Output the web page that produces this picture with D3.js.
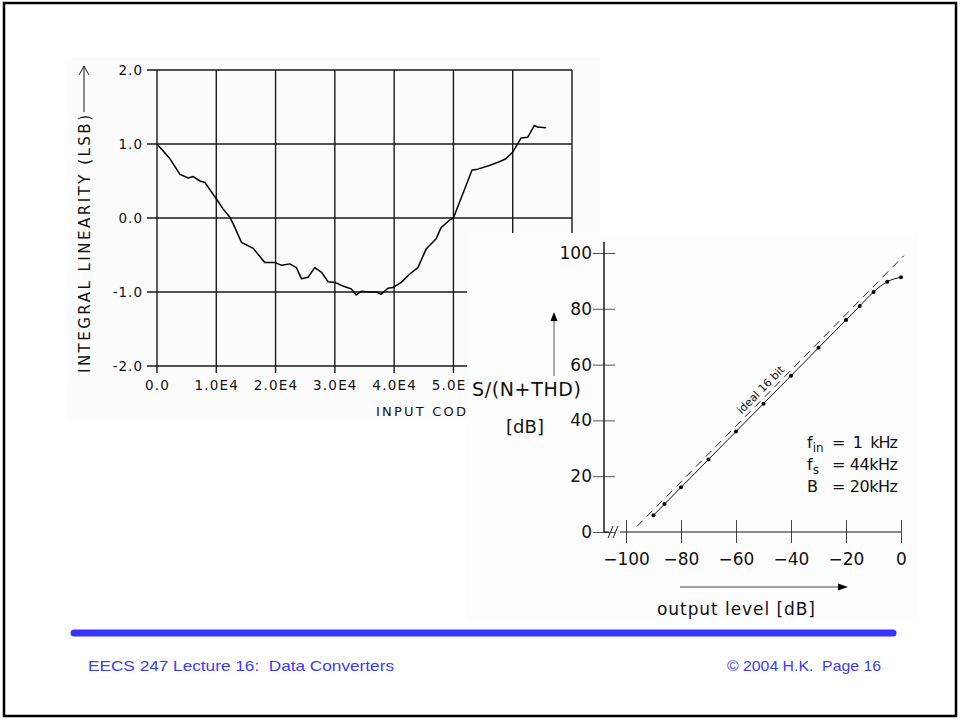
<!DOCTYPE html>
<html>
<head>
<meta charset="utf-8">
<script src="https://cdn.jsdelivr.net/npm/d3@7"></script>
<style>
  body { margin: 0; background: #fff; }
  svg { display: block; }
  text { font-family: "DejaVu Sans", sans-serif; }
</style>
</head>
<body>
<script>
const width = 960
const height = 719
const ink = "#1a1a1a"
const footBlue = "#3b3bff"

// left plot: integral linearity vs input code
const inlCode = [0, 2190, 3870, 5270, 6110, 7240, 8080, 10000, 11170, 12290, 12850, 14250, 16220, 18180, 19870,
    20990, 22390, 23510, 24360, 25480, 26600, 27720, 28840, 30000, 31370, 32780, 33610, 34450, 35860, 36980,
    37820, 38940, 39800, 41200, 42590, 44000, 45400, 47080, 47920, 49330, 50000, 51010, 52130, 53140, 54100,
    56060, 57740, 58860, 60000, 61400, 62520, 63640, 64200, 65600]
const inlValue = [1.0, 0.80, 0.59, 0.54, 0.56, 0.50, 0.48, 0.26, 0.12, 0.01, -0.08, -0.33, -0.41, -0.60, -0.60,
    -0.64, -0.62, -0.67, -0.82, -0.80, -0.67, -0.73, -0.86, -0.87, -0.92, -0.96, -1.04, -0.99, -1.0, -1.0,
    -1.03, -0.95, -0.94, -0.87, -0.76, -0.67, -0.42, -0.28, -0.13, -0.03, 0.0, 0.21, 0.44, 0.65, 0.66,
    0.71, 0.76, 0.80, 0.89, 1.08, 1.09, 1.25, 1.23, 1.22]
const inlXTicks = [0, 10000, 20000, 30000, 40000, 50000, 60000]
const inlXLabels = ["0.0", "1.0E4", "2.0E4", "3.0E4", "4.0E4", "5.0E4", ""]
const inlYTicks = [2, 1, 0, -1, -2]

// right plot: S/(N+THD) vs output level
const outLevel = [-90, -86, -80, -70, -60, -50, -40, -30, -20, -15, -10, -5, 0]
const snrMeasured = [6, 10, 16, 26, 36, 46, 56, 66, 76, 81, 86, 89.7, 91.3]
const idealLevel = [-96, 1]
const idealSnr = [2, 99]
const levelTicks = [-100, -80, -60, -40, -20, 0]
const snrTicks = [0, 20, 40, 60, 80, 100]
const conditions = [["f", "in", "=  1  kHz"], ["f", "s", "= 44kHz"], ["B", "", "= 20kHz"]]

const svg = d3.select("body").append("svg")
    .attr("width", width)
    .attr("height", height)

// slide frame
svg.append("rect")
    .attr("x", 4).attr("y", 3)
    .attr("width", 952).attr("height", 713)
    .attr("fill", "none")
    .attr("stroke", "#000")
    .attr("stroke-width", 2.5)

// ---------- left chart ----------
svg.append("rect")
    .attr("x", 67).attr("y", 57)
    .attr("width", 533).attr("height", 365)
    .attr("fill", "#fcfcfc")

const xL = d3.scaleLinear().domain([0, 70000]).range([157, 572])
const yL = d3.scaleLinear().domain([-2, 2]).range([366, 70])

const left = svg.append("g")

left.selectAll(".hgrid")
    .data(inlYTicks)
    .enter()
    .append("line")
    .attr("x1", xL(0) - 10)
    .attr("x2", xL(70000))
    .attr("y1", d => yL(d))
    .attr("y2", d => yL(d))
    .attr("stroke", ink)
    .attr("stroke-width", 1.4)

left.selectAll(".vgrid")
    .data(inlXTicks.concat([70000]))
    .enter()
    .append("line")
    .attr("x1", d => xL(d))
    .attr("x2", d => xL(d))
    .attr("y1", yL(2))
    .attr("y2", d => d == 70000 ? yL(-2) : yL(-2) + 7)
    .attr("stroke", ink)
    .attr("stroke-width", 1.4)

left.append("g")
    .attr("transform", `translate(${xL(0)},0)`)
    .call(d3.axisLeft(yL).tickValues(inlYTicks).tickSize(10).tickPadding(4)
        .tickFormat(d => d3.format(".1f")(d).replace("−", "-")))
    .call(g => g.select(".domain").remove())
    .call(g => g.selectAll("line").remove())
    .call(g => g.selectAll("text")
        .style("font-family", "DejaVu Sans, sans-serif")
        .style("font-size", "13.5px")
        .style("letter-spacing", "1px")
        .style("fill", "#111"))

left.append("g")
    .attr("transform", `translate(0,${yL(-2)})`)
    .call(d3.axisBottom(xL).tickValues(inlXTicks).tickSize(7).tickPadding(7)
        .tickFormat((d, i) => inlXLabels[i]))
    .call(g => g.select(".domain").remove())
    .call(g => g.selectAll("line").remove())
    .call(g => g.selectAll("text")
        .style("font-family", "DejaVu Sans, sans-serif")
        .style("font-size", "13.5px")
        .style("letter-spacing", "1.2px")
        .style("fill", "#111"))

left.append("text")
    .attr("x", 376).attr("y", 416)
    .style("font-size", "13px")
    .style("letter-spacing", "2.2px")
    .style("fill", "#111")
    .text("INPUT CODE")

left.append("text")
    .attr("transform", "translate(90,373) rotate(-90)")
    .attr("textLength", 258)
    .attr("lengthAdjust", "spacing")
    .style("font-size", "15px")
    .style("fill", "#111")
    .text("INTEGRAL LINEARITY (LSB)")

left.append("line")
    .attr("x1", 84).attr("x2", 84)
    .attr("y1", 112).attr("y2", 66)
    .attr("stroke", ink).attr("stroke-width", 1)
left.append("path")
    .attr("d", "M79,75 L84,66 L89,75")
    .attr("fill", "none")
    .attr("stroke", ink).attr("stroke-width", 1)

const inlLine = d3.line()
    .x(d => xL(d[0]))
    .y(d => yL(d[1]))

left.append("path")
    .datum(d3.zip(inlCode, inlValue))
    .attr("d", inlLine)
    .attr("fill", "none")
    .attr("stroke", "#000")
    .attr("stroke-width", 1.5)
    .attr("stroke-linejoin", "round")

// ---------- right chart (pasted over the left one) ----------
svg.append("rect")
    .attr("x", 467).attr("y", 233)
    .attr("width", 451).attr("height", 387)
    .attr("fill", "#fdfdfd")

const xR = d3.scaleLinear().domain([-100, 0]).range([626, 901])
const yR = d3.scaleLinear().domain([0, 100]).range([532, 253])

const right = svg.append("g")

// y axis, ticks cross the line
right.append("g")
    .attr("transform", `translate(${xR(-100) - 11},0)`)
    .call(d3.axisLeft(yR).tickValues(snrTicks).tickSize(22).tickPadding(1))
    .call(g => g.select(".domain").remove())
    .call(g => g.selectAll("line").attr("stroke", "#555").attr("stroke-width", 1))
    .call(g => g.selectAll("text")
        .style("font-family", "DejaVu Sans, sans-serif")
        .style("font-size", "17px")
        .style("fill", "#111"))

right.append("line")
    .attr("x1", 604).attr("x2", 604)
    .attr("y1", 242).attr("y2", yR(0))
    .attr("stroke", ink).attr("stroke-width", 1.5)

// x axis, ticks cross the line
right.append("g")
    .attr("transform", `translate(0,${yR(0) - 12})`)
    .call(d3.axisBottom(xR).tickValues(levelTicks).tickSize(23).tickPadding(10))
    .call(g => g.select(".domain").remove())
    .call(g => g.selectAll("line").attr("stroke", "#444").attr("stroke-width", 1))
    .call(g => g.selectAll("text")
        .style("font-family", "DejaVu Sans, sans-serif")
        .style("font-size", "17px")
        .style("fill", "#111"))

right.append("line")
    .attr("x1", 604).attr("x2", 609)
    .attr("y1", yR(0)).attr("y2", yR(0))
    .attr("stroke", ink).attr("stroke-width", 1.2)
right.append("line")
    .attr("x1", 620).attr("x2", xR(0))
    .attr("y1", yR(0)).attr("y2", yR(0))
    .attr("stroke", ink).attr("stroke-width", 1.2)
right.append("path")
    .attr("d", "M608,538 L613,526 M613,538 L618,526")
    .attr("stroke", ink).attr("stroke-width", 1)

// ideal 16 bit, dashed
right.append("path")
    .datum(d3.zip(idealLevel, idealSnr))
    .attr("d", d3.line().x(d => xR(d[0])).y(d => yR(d[1])))
    .attr("fill", "none")
    .attr("stroke", "#222")
    .attr("stroke-width", 1)
    .attr("stroke-dasharray", "8,6")

const ang = Math.atan2(yR(idealSnr[1]) - yR(idealSnr[0]), xR(idealLevel[1]) - xR(idealLevel[0])) * 180 / Math.PI
right.append("text")
    .attr("transform", `translate(${xR(-49)},${yR(-49 + 98)}) rotate(${ang})`)
    .attr("text-anchor", "middle")
    .attr("dy", -4)
    .style("font-size", "11px")
    .style("fill", "#111")
    .text("ideal 16 bit")

// measured curve with dots
right.append("path")
    .datum(d3.zip(outLevel, snrMeasured))
    .attr("d", d3.line().x(d => xR(d[0])).y(d => yR(d[1])).curve(d3.curveMonotoneX))
    .attr("fill", "none")
    .attr("stroke", "#111")
    .attr("stroke-width", 1)

right.selectAll(".pt")
    .data(d3.zip(outLevel, snrMeasured))
    .enter()
    .append("circle")
    .attr("cx", d => xR(d[0]))
    .attr("cy", d => yR(d[1]))
    .attr("r", 2)
    .attr("fill", "#000")

// axis titles
right.append("text")
    .attr("x", 472).attr("y", 396)
    .attr("textLength", 109)
    .attr("lengthAdjust", "spacing")
    .style("font-size", "19px")
    .style("fill", "#111")
    .text("S/(N+THD)")
right.append("text")
    .attr("x", 525).attr("y", 433)
    .attr("text-anchor", "middle")
    .style("font-size", "18px")
    .style("fill", "#111")
    .text("[dB]")
right.append("line")
    .attr("x1", 554).attr("x2", 554)
    .attr("y1", 376).attr("y2", 318)
    .attr("stroke", "#555").attr("stroke-width", 1)
right.append("path")
    .attr("d", "M550.5,321 L554,312 L557.5,321 Z")
    .attr("fill", "#000")

right.append("line")
    .attr("x1", 680).attr("x2", 840)
    .attr("y1", 587).attr("y2", 587)
    .attr("stroke", "#444").attr("stroke-width", 1)
right.append("path")
    .attr("d", "M838,583.5 L848,587 L838,590.5 Z")
    .attr("fill", "#000")
right.append("text")
    .attr("x", 657).attr("y", 615)
    .attr("textLength", 158)
    .attr("lengthAdjust", "spacing")
    .style("font-size", "17px")
    .style("fill", "#111")
    .text("output level [dB]")

// test conditions
const cond = right.selectAll(".cond")
    .data(conditions)
    .enter()
    .append("g")
    .attr("transform", (d, i) => `translate(807,${448 + i * 22})`)
cond.append("text")
    .style("font-size", "16px")
    .style("fill", "#111")
    .text(d => d[0])
    .append("tspan")
    .attr("dy", 4)
    .style("font-size", "12px")
    .text(d => d[1])
cond.append("text")
    .attr("x", 25)
    .attr("textLength", 66)
    .attr("lengthAdjust", "spacing")
    .style("font-size", "16px")
    .style("fill", "#111")
    .style("white-space", "pre")
    .text(d => d[2])

// ---------- footer ----------
svg.append("line")
    .attr("x1", 74).attr("x2", 893)
    .attr("y1", 633).attr("y2", 633)
    .attr("stroke", "#3535ff")
    .attr("stroke-width", 7)
    .attr("stroke-linecap", "round")

svg.append("text")
    .attr("x", 88).attr("y", 671)
    .attr("textLength", 306)
    .attr("lengthAdjust", "spacingAndGlyphs")
    .style("font-family", "Liberation Sans, Arial, sans-serif")
    .style("font-size", "15px")
    .style("white-space", "pre")
    .style("fill", footBlue)
    .text("EECS 247 Lecture 16:  Data Converters")

svg.append("text")
    .attr("x", 881).attr("y", 671)
    .attr("text-anchor", "end")
    .attr("textLength", 154)
    .attr("lengthAdjust", "spacingAndGlyphs")
    .style("font-family", "Liberation Sans, Arial, sans-serif")
    .style("font-size", "15px")
    .style("white-space", "pre")
    .style("fill", footBlue)
    .text("© 2004 H.K.  Page 16")
</script>
</body>
</html>
